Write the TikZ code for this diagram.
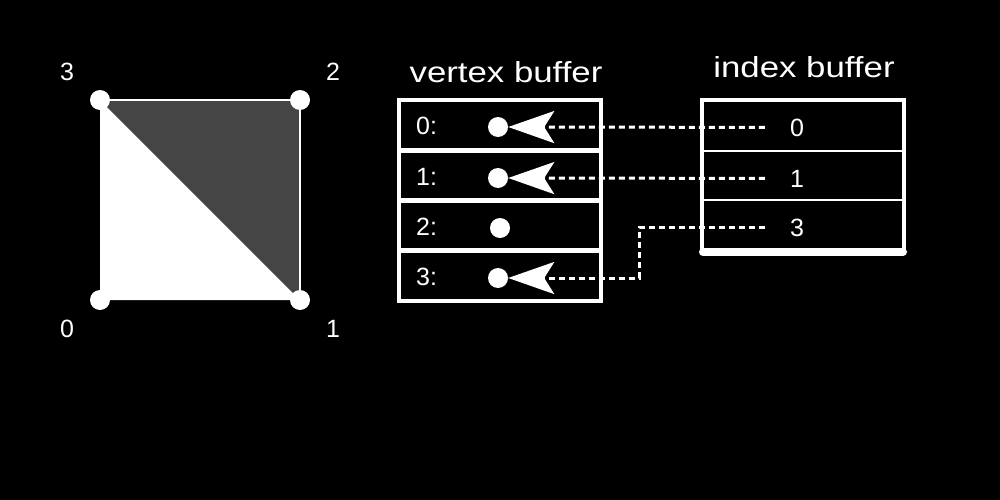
\documentclass[tikz,border=0pt]{standalone}
\usepackage{fontspec}
\setmainfont{Liberation Sans}
\newfontfamily\titlefont{Liberation Sans}[FakeStretch=1.2]
\usetikzlibrary{arrows.meta}
\begin{document}
\begin{tikzpicture}[x=1pt,y=-1pt,
  dot/.style={circle, fill=white, minimum size=20pt, inner sep=0pt},
  lbl/.style={text=white, font=\fontsize{25}{30}\selectfont, inner sep=0pt, anchor=base},
  rowlbl/.style={text=white, font=\fontsize{25}{30}\selectfont, inner sep=0pt, anchor=base west},
  idx/.style={text=white, font=\fontsize{25}{30}\selectfont, inner sep=0pt, anchor=base, minimum width=64pt},
  title/.style={text=white, font=\titlefont\fontsize{29}{34}\selectfont, inner sep=0pt, anchor=base},
  frame/.style={white, line width=4pt},
  conn/.style={white, line width=3pt, dash pattern=on 6pt off 4pt,
    -{Stealth[length=46pt, width=32pt, inset=10pt]}}
]
\fill[black] (0,0) rectangle (1000,500);
\useasboundingbox (0,0) rectangle (1000,500);

% quad
\fill[white] (100,100) -- (300,300) -- (100,300) -- cycle;
\fill[black!73] (100,100) -- (300,100) -- (300,300) -- cycle;
\draw[white, line width=1.5pt] (100,100) -- (300,100) -- (300,300);
\node[dot] (p0) at (100,300) {};
\node[dot] (p1) at (300,300) {};
\node[dot] (p2) at (300,100) {};
\node[dot] (p3) at (100,100) {};
\node[lbl] (l3) at (67,81) {3};
\node[lbl] (l2) at (333,81) {2};
\node[lbl] (l0) at (67,337) {0};
\node[lbl] (l1) at (333,337) {1};

% vertex buffer
\node[title] (vt) at (506,83) {vertex buffer};
\draw[frame] (399,100) rectangle (601,301);
\foreach \yy in {150.5,200.5,250.5} \draw[white, line width=5pt] (399,\yy) -- (601,\yy);
\node[rowlbl] (r0) at (416,135) {0:};
\node[rowlbl] (r1) at (416,185) {1:};
\node[rowlbl] (r2) at (416,235) {2:};
\node[rowlbl] (r3) at (416,285) {3:};
\node[dot] (v0) at (498,127) {};
\node[dot] (v1) at (498,178) {};
\node[dot] (v2) at (500,228) {};
\node[dot] (v3) at (498,278) {};

% index buffer
\node[title] (it) at (804,78) {index buffer};
\draw[frame] (702,100) rectangle (904,252);
\draw[white, line width=2.5pt] (702,151) -- (904,151);
\draw[white, line width=2.5pt] (702,200) -- (904,200);
\draw[white, line width=8pt, line cap=round] (703,252) -- (903,252);
\node[idx] (i0) at (797,136) {0};
\node[idx] (i1) at (797,187) {1};
\node[idx] (i3) at (797,236) {3};

% connectors
\draw[conn] (i0.west) -- (v0.east);
\draw[conn] (i1.west) -- (v1.east);
\draw[conn] (i3.west) -- ++(-125,0) |- (v3.east);
\end{tikzpicture}
\end{document}
